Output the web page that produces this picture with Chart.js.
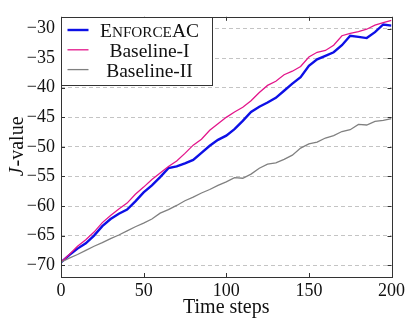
<!DOCTYPE html>
<html lang="en">
<head>
<meta charset="UTF-8">
<title>J-value over time steps</title>
<script src="https://cdn.jsdelivr.net/npm/chart.js"></script>
<style>
    body { margin: 0; background: #fff; }
    #caixa { width: 408px; height: 321px; }
</style>
</head>
<body>
<div id="caixa"><canvas id="grafico" width="408" height="321"></canvas></div>
<script>
    // time steps sampled every 5
    var steps = [0, 5, 10, 15, 20, 25, 30, 35, 40, 45, 50, 55, 60, 65, 70, 75, 80, 85, 90, 95, 100,
        105, 110, 115, 120, 125, 130, 135, 140, 145, 150, 155, 160, 165, 170, 175, 180, 185, 190, 195, 200];
    var enforceAC = [-69.5, -68.3, -67.2, -66.3, -65.0, -63.4, -62.2, -61.3, -60.6, -59.2, -57.7,
        -56.5, -55.1, -53.6, -53.3, -52.8, -52.2, -51.0, -49.8, -48.8, -48.1,
        -47.0, -45.6, -44.1, -43.2, -42.5, -41.7, -40.5, -39.3, -38.2, -36.3,
        -35.2, -34.6, -34.0, -32.8, -31.2, -31.4, -31.6, -30.6, -29.3, -29.5];
    var baseline1 = [-69.5, -68.2, -66.8, -65.7, -64.4, -62.8, -61.6, -60.5, -59.5, -58.0, -56.8,
        -55.5, -54.4, -53.3, -52.4, -51.1, -49.7, -48.7, -47.2, -46.1, -45.0,
        -44.1, -43.3, -42.2, -40.8, -39.6, -38.9, -37.8, -37.2, -36.4, -34.8,
        -34.0, -33.7, -32.8, -31.2, -30.8, -30.5, -30.1, -29.4, -29.0, -28.6];
    var baseline2 = [-69.5, -68.8, -68.2, -67.5, -66.8, -66.2, -65.5, -64.9, -64.2, -63.5, -62.9,
        -62.2, -61.2, -60.6, -59.9, -59.1, -58.5, -57.8, -57.2, -56.5, -55.9,
        -55.2, -55.3, -54.6, -53.6, -52.9, -52.7, -52.1, -51.4, -50.2, -49.5,
        -49.2, -48.5, -48.1, -47.4, -47.1, -46.2, -46.3, -45.7, -45.5, -45.2];
    var nomes = ['EnforceAC', 'Baseline-I', 'Baseline-II'];
    var versalete = [true, false, false];
    var cores = ['#0d10e6', '#e3168b', '#808080'];
    var xTicks = [0, 50, 100, 150, 200];
    var yTicks = [-70, -65, -60, -55, -50, -45, -40, -35, -30];

    var fonte = '"Liberation Serif", "DejaVu Serif", serif';

    function pontos(valores) {
        return steps.map(function (t, i) { return { x: t, y: valores[i] }; });
    }

    // centered label; if caps is true lowercase letters become small caps
    function textoLegenda(ctx, texto, caps, cx, baseY, tam) {
        var pedacos = texto.split('').map(function (c) {
            var pequeno = caps && c !== c.toUpperCase();
            return { c: caps ? c.toUpperCase() : c, f: (pequeno ? tam * 0.78 : tam) + 'px ' + fonte };
        });
        var total = 0;
        pedacos.forEach(function (p) { ctx.font = p.f; p.w = ctx.measureText(p.c).width; total += p.w; });
        var x = cx - total / 2;
        ctx.textAlign = 'left';
        ctx.textBaseline = 'alphabetic';
        pedacos.forEach(function (p) { ctx.font = p.f; ctx.fillText(p.c, x, baseY); x += p.w; });
    }

    var moldura = {
        id: 'moldura',
        afterDatasetsDraw: function (chart) {
            var ctx = chart.ctx, a = chart.chartArea;
            var sx = chart.scales.x, sy = chart.scales.y;
            ctx.save();
            ctx.strokeStyle = '#333';
            ctx.lineWidth = 1;
            ctx.setLineDash([]);
            ctx.strokeRect(Math.round(a.left) + 0.5, Math.round(a.top) + 0.5, Math.round(a.right - a.left), Math.round(a.bottom - a.top));
            ctx.beginPath();
            xTicks.forEach(function (v) {
                var px = Math.round(sx.getPixelForValue(v)) + 0.5;
                ctx.moveTo(px, a.bottom); ctx.lineTo(px, a.bottom - 4);
                ctx.moveTo(px, a.top); ctx.lineTo(px, a.top + 4);
            });
            yTicks.forEach(function (v) {
                var py = Math.round(sy.getPixelForValue(v)) + 0.5;
                ctx.moveTo(a.right, py); ctx.lineTo(a.right - 4, py);
                ctx.moveTo(a.left, py); ctx.lineTo(a.left + 4, py);
            });
            ctx.stroke();

            // legend box inside the plot, top left
            var x0 = Math.round(a.left) + 0.5, y0 = Math.round(a.top) + 0.5;
            ctx.fillStyle = '#fff';
            ctx.fillRect(x0, y0, 151, 68);
            ctx.strokeStyle = '#333';
            ctx.strokeRect(x0, y0, 151, 68);
            chart.data.datasets.forEach(function (ds, i) {
                var base = y0 + 19.5 + i * 19.8;
                ctx.strokeStyle = ds.borderColor;
                ctx.lineWidth = ds.borderWidth;
                ctx.beginPath();
                ctx.moveTo(x0 + 6, base - 7);
                ctx.lineTo(x0 + 27, base - 7);
                ctx.stroke();
                ctx.fillStyle = '#111';
                textoLegenda(ctx, ds.label, versalete[i], x0 + 88, base, 19.5);
            });

            // y axis title with italic J
            ctx.save();
            ctx.translate(23, (a.top + a.bottom) / 2);
            ctx.rotate(-Math.PI / 2);
            ctx.fillStyle = '#111';
            ctx.textBaseline = 'alphabetic';
            ctx.textAlign = 'left';
            ctx.font = 'italic 20px ' + fonte;
            var wJ = ctx.measureText('J').width;
            ctx.font = '20px ' + fonte;
            var wR = ctx.measureText('-value').width;
            var inicio = -(wJ + wR) / 2;
            ctx.font = 'italic 20px ' + fonte;
            ctx.fillText('J', inicio, 0);
            ctx.font = '20px ' + fonte;
            ctx.fillText('-value', inicio + wJ + 1, 0);
            ctx.restore();
            ctx.restore();
        }
    };

    const chart = new Chart('grafico', {
        type: 'line',
        data: {
            datasets: [
                { label: nomes[0], data: pontos(enforceAC), borderColor: cores[0], borderWidth: 2.4, order: 3 },
                { label: nomes[1], data: pontos(baseline1), borderColor: cores[1], borderWidth: 1.3, order: 2 },
                { label: nomes[2], data: pontos(baseline2), borderColor: cores[2], borderWidth: 1.3, order: 1 }
            ]
        },
        options: {
            responsive: false,
            animation: false,
            devicePixelRatio: 1,
            layout: { padding: { top: 9, right: 15, bottom: 0, left: 0 } },
            elements: { point: { radius: 0 }, line: { tension: 0 } },
            plugins: { legend: { display: false }, tooltip: { enabled: false } },
            scales: {
                x: {
                    type: 'linear',
                    min: 0,
                    max: 200,
                    afterBuildTicks: function (s) { s.ticks = xTicks.map(function (v) { return { value: v }; }); },
                    afterFit: function (s) { s.height = 44; },
                    grid: { display: false, drawTicks: false },
                    border: { display: false },
                    ticks: { padding: 3, color: '#111', font: { family: fonte, size: 18 }, maxRotation: 0 },
                    title: { display: true, text: 'Time steps', color: '#111', font: { family: fonte, size: 20 }, padding: { top: 0, bottom: 1 } }
                },
                y: {
                    min: -72,
                    max: -28,
                    afterBuildTicks: function (s) { s.ticks = yTicks.map(function (v) { return { value: v }; }); },
                    afterFit: function (s) { s.width = 61; },
                    grid: { color: '#c4c4c4', lineWidth: 1, drawTicks: false },
                    border: { display: false, dash: [4, 3] },
                    ticks: {
                        padding: 6, color: '#111', font: { family: fonte, size: 18 },
                        callback: function (v) { return String(v).replace('-', '\u2212'); }
                    }
                }
            }
        },
        plugins: [moldura]
    });
</script>
</body>
</html>
